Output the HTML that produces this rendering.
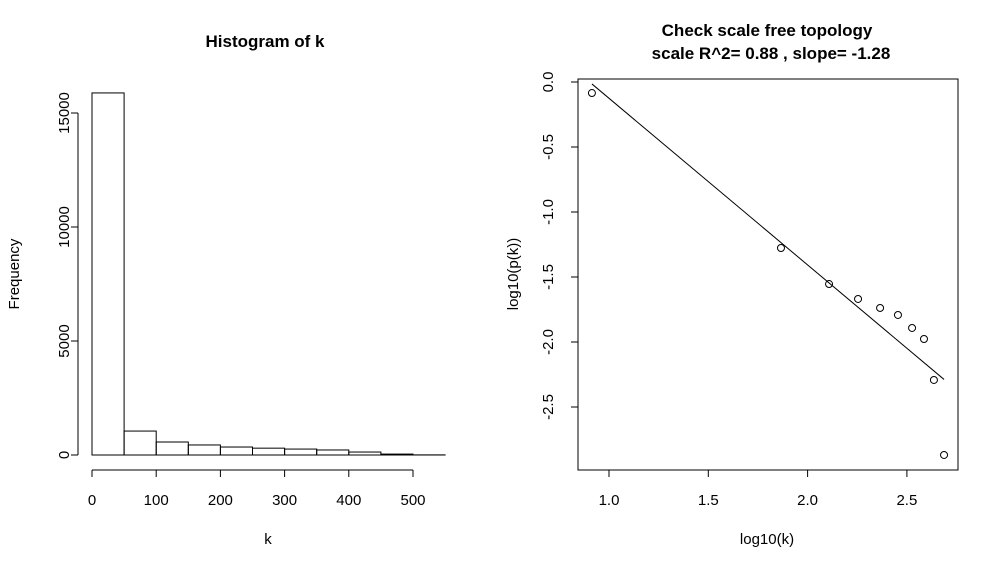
<!DOCTYPE html>
<html><head><meta charset="utf-8"><style>
html,body{margin:0;padding:0;background:#fff;}
svg{display:block;font-family:"Liberation Sans",Arial,sans-serif;}
</style></head><body>
<svg id="chart" width="999" height="568" viewBox="0 0 999 568"></svg>
<script>
const histBreaks = [0,50,100,150,200,250,300,350,400,450,500,550];
const histCounts = [15880,1050,570,440,350,300,260,220,130,40,5];
const histXTicks = [0,100,200,300,400,500];
const histYTicks = [0,5000,10000,15000];
const logK = [0.914,1.866,2.108,2.254,2.365,2.455,2.526,2.586,2.636,2.687];
const logP = [-0.085,-1.277,-1.554,-1.669,-1.738,-1.792,-1.892,-1.977,-2.292,-2.869];
const sfXTicks = ["1.0","1.5","2.0","2.5"];
const sfYTicks = ["0.0","-0.5","-1.0","-1.5","-2.0","-2.5"];

const NS="http://www.w3.org/2000/svg";
const svg=document.getElementById('chart');
function mk(tag,attrs,parent){const e=document.createElementNS(NS,tag);for(const k in attrs)e.setAttribute(k,attrs[k]);(parent||svg).appendChild(e);return e;}
function txt(s,x,y,size,opts){const t=mk('text',Object.assign({x:x,y:y,'font-size':size,'text-anchor':'middle',fill:'#000'},opts||{}));t.textContent=s;return t;}
const ln={stroke:'#000','stroke-width':1,fill:'none'};

// ---- histogram ----
const hx=v=>92+v*(321/500);
const hy=v=>455-v*(342/15000);
const g1=mk('g',{});


for(let i=0;i<histCounts.length;i++){
  const r=mk('rect',Object.assign({x:hx(histBreaks[i]),y:hy(histCounts[i]),width:hx(histBreaks[i+1])-hx(histBreaks[i]),height:hy(0)-hy(histCounts[i])},ln),g1);
  
  
}
mk('line',Object.assign({x1:hx(histBreaks[0]),x2:hx(histBreaks[histBreaks.length-1]),y1:hy(0),y2:hy(0)},ln),g1);
const hxa=mk('g',{},g1);


mk('line',Object.assign({x1:hx(histXTicks[0]),x2:hx(histXTicks[histXTicks.length-1]),y1:470,y2:470},ln),hxa);
histXTicks.forEach(v=>{mk('line',Object.assign({x1:hx(v),x2:hx(v),y1:470,y2:477},ln),hxa);txt(String(v),hx(v),505,15,{});});
const hya=mk('g',{},g1);


mk('line',Object.assign({x1:78,x2:78,y1:hy(histYTicks[0]),y2:hy(histYTicks[histYTicks.length-1])},ln),hya);
histYTicks.forEach(v=>{mk('line',Object.assign({x1:71,x2:78,y1:hy(v),y2:hy(v)},ln),hya);const t=txt(String(v),0,0,15,{transform:`translate(69,${hy(v)}) rotate(-90)`});});
let t=txt('Histogram of k',265,47,17,{'font-weight':'bold'});
t=txt('k',268,544,15,{});
t=txt('Frequency',0,0,15,{transform:'translate(19,274) rotate(-90)'});

// ---- scale free plot ----
const sx=v=>609+(v-1)*198.6;
const sy=v=>82-v*130;
const g2=mk('g',{});


mk('rect',Object.assign({x:578,y:79,width:380,height:391},ln),g2);
const n=logK.length;let mx=0,my=0;for(let i=0;i<n;i++){mx+=logK[i];my+=logP[i];}mx/=n;my/=n;
let sxy=0,sxx=0;for(let i=0;i<n;i++){sxy+=(logK[i]-mx)*(logP[i]-my);sxx+=(logK[i]-mx)**2;}
const slope=sxy/sxx,icpt=my-slope*mx;
const x0=Math.min(...logK),x1=Math.max(...logK);
const fl=mk('line',Object.assign({x1:sx(x0),y1:sy(icpt+slope*x0),x2:sx(x1),y2:sy(icpt+slope*x1)},ln),g2);


for(let i=0;i<n;i++){
  const c=mk('circle',Object.assign({cx:sx(logK[i]),cy:sy(logP[i]),r:3.5},ln),g2);
  
  
}
const sxa=mk('g',{},g2);


sfXTicks.forEach(s=>{const v=parseFloat(s);mk('line',Object.assign({x1:sx(v),x2:sx(v),y1:470,y2:477},ln),sxa);txt(s,sx(v),505,15,{});});
const sya=mk('g',{},g2);


sfYTicks.forEach(s=>{const v=parseFloat(s);mk('line',Object.assign({x1:571,x2:578,y1:sy(v),y2:sy(v)},ln),sya);txt(s,0,0,15,{transform:`translate(553,${sy(v)}) rotate(-90)`});});
t=txt('Check scale free topology',767,36,17,{'font-weight':'bold'});
t=txt('scale R^2= 0.88 , slope= -1.28',771,59,17,{'font-weight':'bold'});
t=txt('log10(k)',767,544,15,{});
t=txt('log10(p(k))',0,0,15,{transform:'translate(518,274) rotate(-90)'});
</script>
</body></html>
